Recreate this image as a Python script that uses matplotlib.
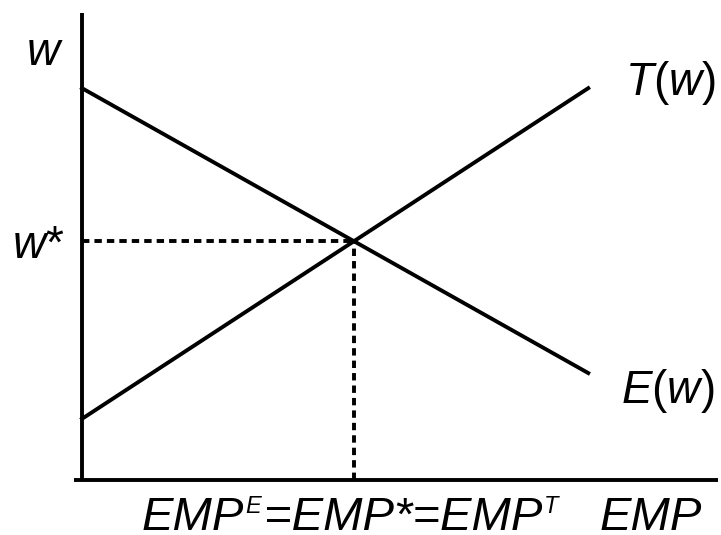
import matplotlib
matplotlib.use('Agg')
import matplotlib.pyplot as plt

# curve end points (EMP, w) in chart units
emp_e = [0.0, 7.96]
wage_e = [8.39, 2.29]
emp_t = [0.0, 7.96]
wage_t = [1.31, 8.39]

plt.rcParams['font.family'] = ['Liberation Sans', 'DejaVu Sans']
plt.rcParams['mathtext.fontset'] = 'custom'
plt.rcParams['mathtext.it'] = 'Liberation Sans:italic'
plt.rcParams['mathtext.rm'] = 'Liberation Sans:normal'

fig = plt.figure(figsize=(7.21, 5.35), dpi=100)
ax = fig.add_axes([82 / 721, 55 / 535, 636 / 721, 467 / 535])
ax.set_xlim(0, 10)
ax.set_ylim(0, 10)
ax.axis('off')

lw = 2.8
# axes
ax.plot([0, 0], [0, 10], color='black', lw=lw, clip_on=False, solid_capstyle='butt')
ax.plot([-0.13, 10], [0, 0], color='black', lw=lw, clip_on=False, solid_capstyle='butt')

# curves
ax.plot(emp_e, wage_e, color='black', lw=lw, clip_on=False)
ax.plot(emp_t, wage_t, color='black', lw=lw, clip_on=False)

# equilibrium
se = (wage_e[1] - wage_e[0]) / (emp_e[1] - emp_e[0])
st = (wage_t[1] - wage_t[0]) / (emp_t[1] - emp_t[0])
x_star = (wage_t[0] - wage_e[0]) / (se - st)
w_star = wage_e[0] + se * x_star
dash = (0, (1.9, 1.3))
ax.plot([0, x_star], [w_star, w_star], color='black', lw=lw, linestyle=dash)
ax.plot([x_star, x_star], [0, w_star], color='black', lw=lw, linestyle=dash)

fs = 33
kw = dict(fontsize=fs, ha='left', va='baseline', clip_on=False)
ax.text(-0.865, 8.89, 'w', style='italic', **kw)
ax.text(-1.10, 4.75, r'$w$*', **kw)
ax.text(8.53, 8.24, r'$T\mathrm{(}w\mathrm{)}$', **kw)
ax.text(8.47, 1.65, r'$E\mathrm{(}w\mathrm{)}$', **kw)

# x-axis label, built piece by piece so superscripts stay small
fs_x = 34
base_y = -1.07
sup = 17
raise_pt = 0.716 * (fs_x - sup)
t = ax.text(0.93, base_y, 'EMP', style='italic', fontsize=fs_x,
            ha='left', va='baseline', clip_on=False)
# (text, size, gap before in pt, raise in pt)
pieces = [('E', sup, 1.0, raise_pt), ('=EMP*=EMP', fs_x, 2.5, 0),
          ('T', sup, 1.0, raise_pt)]
for s, size, gap, dy in pieces:
    t = ax.annotate(s, xy=(1, base_y), xycoords=(t, 'data'),
                    xytext=(gap, dy), textcoords='offset points',
                    fontsize=size, style='italic', va='baseline',
                    ha='left', annotation_clip=False)
ax.text(8.14, base_y, 'EMP', style='italic', fontsize=fs_x,
        ha='left', va='baseline', clip_on=False)

plt.savefig('out.png', dpi=100)
